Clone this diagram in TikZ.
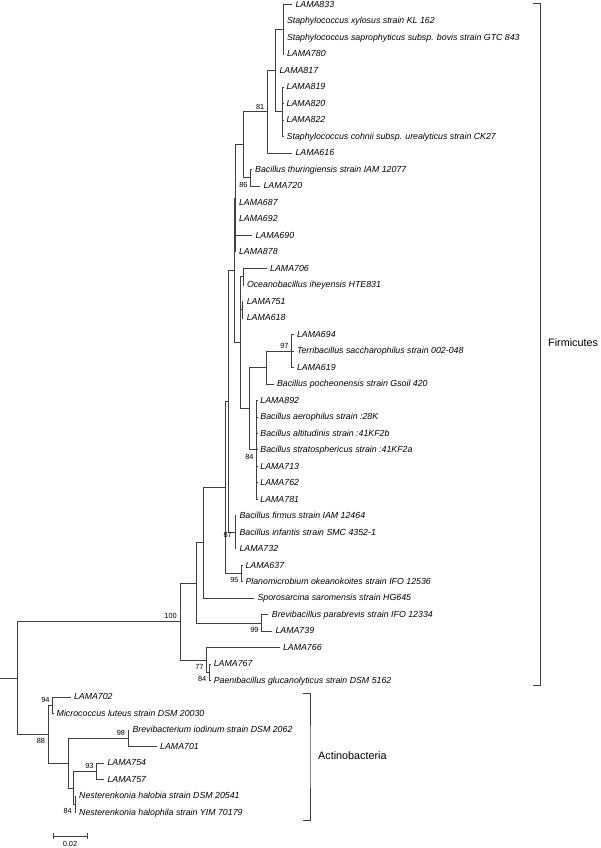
\documentclass[tikz,border=0pt]{standalone}
\usepackage{fontspec}
\setmainfont{Liberation Sans}
\begin{document}
\begin{tikzpicture}[x=1pt,y=-1pt,
	br/.style={line width=0.9pt, black!75},
	leaf/.style={anchor=mid west, inner xsep=3.3pt, inner ysep=0pt, font=\fontsize{8.8}{10}\selectfont\itshape},
	bsa/.style={anchor=south east, inner sep=0pt, xshift=-3pt, yshift=2.5pt, font=\fontsize{7.4}{8}\selectfont},
	bsb/.style={anchor=north east, inner sep=0pt, xshift=-3pt, yshift=-4pt, font=\fontsize{7.4}{8}\selectfont},
	grp/.style={anchor=mid west, inner sep=0pt, font=\fontsize{10.8}{12}\selectfont}]
	
	\useasboundingbox (0,0) rectangle (600,848);
	
	\begin{scope}[y=-16.49pt, yshift=-4.7pt]
	% internal nodes (x in pt, y in leaf rows)
	\coordinate (rin) at (0,40.83);
	\coordinate (root) at (17,40.83);
	\coordinate (A) at (180,37.41);
	\coordinate (AC) at (48.3,44.25);
	\coordinate (B) at (196.7,35.07);
	\coordinate (C) at (206.7,39.75);
	\coordinate (D) at (209.5,40.5);
	\coordinate (U) at (203.3,32.64);
	\coordinate (BV) at (261.7,37.5);
	\coordinate (R) at (225,29.28);
	\coordinate (Z) at (228,24.06);
	\coordinate (N95) at (241.7,34.5);
	\coordinate (Y) at (234,16.125);
	\coordinate (N87) at (235,32);
	\coordinate (Q) at (235.5,11.75);
	\coordinate (Op) at (240.7,20.5);
	\coordinate (P) at (243,8.5);
	\coordinate (N81) at (267.5,6.5);
	\coordinate (N86) at (250.7,10.5);
	\coordinate (S) at (275,4);
	\coordinate (G1) at (283,1.5);
	\coordinate (G2) at (282.7,6.5);
	\coordinate (O1) at (243.3,16.5);
	\coordinate (O2) at (242.3,18.5);
	\coordinate (M) at (249.3,24.5);
	\coordinate (K) at (266.7,22);
	\coordinate (N97) at (291.7,21);
	\coordinate (N84b) at (256.7,27);
	\coordinate (N94) at (52.7,42.5);
	\coordinate (N2) at (68.3,46);
	\coordinate (N98) at (128.3,44.5);
	\coordinate (N3) at (73.3,47.5);
	\coordinate (N93) at (96.7,46.5);
	\coordinate (N84) at (75,48.5);
	
	% leaves
	\node[leaf] (l833) at (292,0) {LAMA833};
	\node[leaf] (xyl) at (283.5,1) {Staphylococcus xylosus strain KL 162};
	\node[leaf] (sap) at (283.5,2) {Staphylococcus saprophyticus subsp. bovis strain GTC 843};
	\node[leaf] (l780) at (283.5,3) {LAMA780};
	\node[leaf] (l817) at (276,4) {LAMA817};
	\node[leaf] (l819) at (283.2,5) {LAMA819};
	\node[leaf] (l820) at (283.2,6) {LAMA820};
	\node[leaf] (l822) at (283.2,7) {LAMA822};
	\node[leaf] (coh) at (283.2,8) {Staphylococcus cohnii subsp. urealyticus strain CK27};
	\node[leaf] (l616) at (292,9) {LAMA616};
	\node[leaf] (thu) at (251.7,10) {Bacillus thuringiensis strain IAM 12077};
	\node[leaf] (l720) at (260,11) {LAMA720};
	\node[leaf] (l687) at (235.5,12) {LAMA687};
	\node[leaf] (l692) at (235.5,13) {LAMA692};
	\node[leaf] (l690) at (252,14) {LAMA690};
	\node[leaf] (l878) at (235.5,15) {LAMA878};
	\node[leaf] (l706) at (266.7,16) {LAMA706};
	\node[leaf] (oce) at (243.5,17) {Oceanobacillus iheyensis HTE831};
	\node[leaf] (l751) at (243.3,18) {LAMA751};
	\node[leaf] (l618) at (243.3,19) {LAMA618};
	\node[leaf] (l694) at (293.5,20) {LAMA694};
	\node[leaf] (ter) at (293.5,21) {Terribacillus saccharophilus strain 002-048};
	\node[leaf] (l619) at (293.5,22) {LAMA619};
	\node[leaf] (poc) at (273.5,23) {Bacillus pocheonensis strain Gsoil 420};
	\node[leaf] (l892) at (256.9,24) {LAMA892};
	\node[leaf] (aer) at (256.9,25) {Bacillus aerophilus strain :28K};
	\node[leaf] (alt) at (256.9,26) {Bacillus altitudinis strain :41KF2b};
	\node[leaf] (str) at (256.9,27) {Bacillus stratosphericus strain :41KF2a};
	\node[leaf] (l713) at (256.9,28) {LAMA713};
	\node[leaf] (l762) at (256.9,29) {LAMA762};
	\node[leaf] (l781) at (256.9,30) {LAMA781};
	\node[leaf] (fir) at (236,31) {Bacillus firmus strain IAM 12464};
	\node[leaf] (inf) at (236,32) {Bacillus infantis strain SMC 4352-1};
	\node[leaf] (l732) at (236,33) {LAMA732};
	\node[leaf] (l637) at (242,34) {LAMA637};
	\node[leaf] (pla) at (242,35) {Planomicrobium okeanokoites strain IFO 12536};
	\node[leaf] (spo) at (254,36) {Sporosarcina saromensis strain HG645};
	\node[leaf] (bre) at (268.4,37) {Brevibacillus parabrevis strain IFO 12334};
	\node[leaf] (l739) at (272,38) {LAMA739};
	\node[leaf] (l766) at (279.5,39) {LAMA766};
	\node[leaf] (l767) at (210.3,40) {LAMA767};
	\node[leaf] (pae) at (210.3,41) {Paenibacillus glucanolyticus strain DSM 5162};
	\node[leaf] (l702) at (70.5,42) {LAMA702};
	\node[leaf] (mic) at (53.2,43) {Micrococcus luteus strain DSM 20030};
	\node[leaf] (bri) at (129,44) {Brevibacterium iodinum strain DSM 2062};
	\node[leaf] (l701) at (156.7,45) {LAMA701};
	\node[leaf] (l754) at (104,46) {LAMA754};
	\node[leaf] (l757) at (104,47) {LAMA757};
	\node[leaf] (hlb) at (75.7,48) {Nesterenkonia halobia strain DSM 20541};
	\node[leaf] (hlp) at (75.7,49) {Nesterenkonia halophila strain YIM 70179};
	
	% branches
	\draw[br] (rin) -- (root);
	\draw[br] (root) |- (A) (root) |- (AC);
	\draw[br] (A) |- (B) (A) |- (C);
	\draw[br] (B) |- (U) (B) |- (BV);
	\draw[br] (U) |- (R) (U) |- (spo.mid west);
	\draw[br] (R) |- (Z) (R) |- (N95);
	\draw[br] (Z) |- (Y) (Z) |- (N87);
	\draw[br] (Y) |- (Q) (Y) |- (Op);
	\draw[br] (Q) |- (P) (Q) |- (l687.mid west) (Q) |- (l692.mid west)
		(Q) |- (l690.mid west) (Q) |- (l878.mid west);
	\draw[br] (P) |- (N81) (P) |- (N86);
	\draw[br] (N81) |- (S) (N81) |- (l616.mid west);
	\draw[br] (S) |- (G1) (S) |- (l817.mid west) (S) |- (G2);
	\draw[br] (G1) |- (l833.mid west) (G1) |- (xyl.mid west) (G1) |- (sap.mid west)
		(G1) |- (l780.mid west);
	\draw[br] (G2) |- (l819.mid west) (G2) |- (l820.mid west) (G2) |- (l822.mid west)
		(G2) |- (coh.mid west);
	\draw[br] (N86) |- (thu.mid west) (N86) |- (l720.mid west);
	\draw[br] (Op) |- (O1) (Op) |- (O2) (Op) |- (M);
	\draw[br] (O1) |- (l706.mid west) (O1) |- (oce.mid west);
	\draw[br] (O2) |- (l751.mid west) (O2) |- (l618.mid west);
	\draw[br] (M) |- (K) (M) |- (N84b);
	\draw[br] (K) |- (N97) (K) |- (poc.mid west);
	\draw[br] (N97) |- (l694.mid west) (N97) |- (ter.mid west) (N97) |- (l619.mid west);
	\draw[br] (N84b) |- (l892.mid west) (N84b) |- (aer.mid west) (N84b) |- (alt.mid west)
		(N84b) |- (str.mid west) (N84b) |- (l713.mid west) (N84b) |- (l762.mid west)
		(N84b) |- (l781.mid west);
	\draw[br] (N87) |- (fir.mid west) (N87) |- (inf.mid west) (N87) |- (l732.mid west);
	\draw[br] (N95) |- (l637.mid west) (N95) |- (pla.mid west);
	\draw[br] (BV) |- (bre.mid west) (BV) |- (l739.mid west);
	\draw[br] (C) |- (l766.mid west) (C) |- (D);
	\draw[br] (D) |- (l767.mid west) (D) |- (pae.mid west);
	\draw[br] (AC) |- (N94) (AC) |- (N2);
	\draw[br] (N94) |- (l702.mid west) (N94) |- (mic.mid west);
	\draw[br] (N2) |- (N98) (N2) |- (N3);
	\draw[br] (N98) |- (bri.mid west) (N98) |- (l701.mid west);
	\draw[br] (N3) |- (N93) (N3) |- (N84);
	\draw[br] (N93) |- (l754.mid west) (N93) |- (l757.mid west);
	\draw[br] (N84) |- (hlb.mid west) (N84) |- (hlp.mid west);
	
	% bootstrap values
	\node[bsa] (b100) at (A) {100};
	\node[bsa] (b81) at (N81) {81};
	\node[bsb] (b86) at (N86) {86};
	\node[bsa] (b97) at (N97) {97};
	\node[bsb] (b84b) at (N84b) {84};
	\node[bsb, yshift=4pt] (b87) at (N87) {87};
	\node[bsb] (b95) at (N95) {95};
	\node[bsb] (b99) at (BV) {99};
	\node[bsb] (b77) at (C) {77};
	\node[bsb] (b84p) at (D) {84};
	\node[bsa] (b94) at (N94) {94};
	\node[bsb] (b88) at (AC) {88};
	\node[bsa] (b98) at (N98) {98};
	\node[bsa] (b93) at (N93) {93};
	\node[bsb] (b84n) at (N84) {84};
	\end{scope}
	
	% group brackets
	\coordinate (ft) at (533,3.5);
	\coordinate (fm) at (540.5,344);
	\coordinate (fb) at (533,685);
	\draw[br] (ft) -| (fm) |- (fb);
	\node[grp] (firm) at (548,344) {Firmicutes};
	
	\coordinate (at) at (303,693.3);
	\coordinate (am) at (310,756.5);
	\coordinate (ab) at (303,820);
	\draw[br] (at) -| (am) |- (ab);
	\node[grp] (actino) at (318,757) {Actinobacteria};
	
	% scale bar
	\coordinate (s0) at (53,836);
	\coordinate (s1) at (87,836);
	\draw[br] (s0) -- (s1);
	\draw[br] ([yshift=2.7pt]s0) -- ([yshift=-2.7pt]s0);
	\draw[br] ([yshift=2.7pt]s1) -- ([yshift=-2.7pt]s1);
	\node[inner sep=0pt, font=\fontsize{7.4}{8}\selectfont] (sc) at (70,843.7) {0.02};
	
\end{tikzpicture}
\end{document}
